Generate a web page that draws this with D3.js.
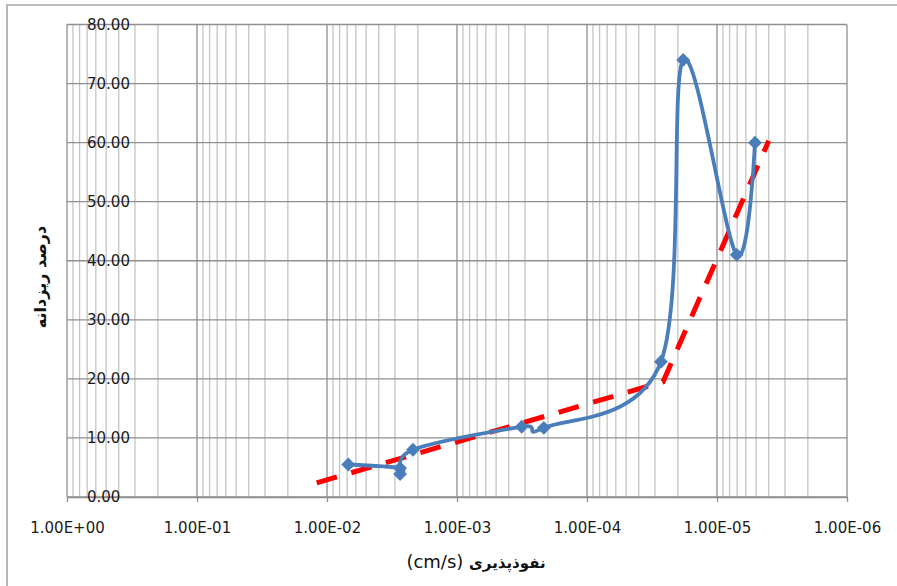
<!DOCTYPE html>
<html>
<head>
<meta charset="utf-8">
<script src="https://cdn.jsdelivr.net/npm/d3@7"></script>
<style>
  html, body { margin: 0; padding: 0; background: #fff; }
  svg { display: block; }
  text { font-family: "DejaVu Sans", sans-serif; }
</style>
</head>
<body>
<svg id="chart" width="897" height="586"></svg>
<script>
// Permeability (cm/s) and fines percentage for each measured sample
const permeability = [6.86e-3, 2.74e-3, 2.74e-3, 2.18e-3, 3.18e-4, 2.15e-4, 2.70e-5, 1.82e-5, 7.05e-6, 5.10e-6];
const finesPercent = [5.5, 4.9, 3.9, 8.0, 11.9, 11.7, 22.9, 74.0, 41.0, 60.0];

// Two-segment trend (red dashed)
const trendPermeability = [1.2e-2, 2.6e-5, 4.0e-6];
const trendFines = [2.4, 19.5, 60.3];

// Axis ticks
const xDecades = [1e0, 1e-1, 1e-2, 1e-3, 1e-4, 1e-5, 1e-6];
const yTicks = [0, 10, 20, 30, 40, 50, 60, 70, 80];

const xTitleUnit = "(cm/s) ";
const xTitleText = "نفوذپذیری";
const yTitleText = "درصد ریزدانه";

const svg = d3.select("#chart");

const x = d3.scaleLog().domain([1e0, 1e-6]).range([67, 847]);
const y = d3.scaleLinear().domain([0, 80]).range([497, 24.5]);

// Outer frame
svg.append("path")
  .attr("d", "M7,590 L7,5 L900,5")
  .attr("fill", "none")
  .attr("stroke", "#a6a6a6")
  .attr("stroke-width", 1.6);

// Minor vertical gridlines (2..9 within each decade)
const minor = [];
for (let e = 0; e > -6; e--) {
  for (let m = 2; m <= 9; m++) minor.push(m * Math.pow(10, e - 1));
}
const grid = svg.append("g");
grid.selectAll(".minor")
  .data(minor)
  .join("line")
  .attr("x1", d => x(d)).attr("x2", d => x(d))
  .attr("y1", y(80)).attr("y2", y(0))
  .attr("stroke", "#c4c4c4")
  .attr("stroke-width", 1.3);

// Horizontal gridlines
grid.selectAll(".hgrid")
  .data(yTicks)
  .join("line")
  .attr("x1", x(1e0)).attr("x2", x(1e-6))
  .attr("y1", d => y(d)).attr("y2", d => y(d))
  .attr("stroke", "#8f8f8f")
  .attr("stroke-width", 1.3);

// Decade gridlines
grid.selectAll(".major")
  .data(xDecades)
  .join("line")
  .attr("x1", d => x(d)).attr("x2", d => x(d))
  .attr("y1", y(80)).attr("y2", y(0))
  .attr("stroke", "#8f8f8f")
  .attr("stroke-width", 1.3);

// X axis with scientific tick labels
const fmtSci = d => {
  const e = Math.round(Math.log10(d));
  return "1.00E" + (e >= 0 ? "+" : "-") + String(Math.abs(e)).padStart(2, "0");
};
const xAxis = svg.append("g")
  .attr("transform", `translate(0,${y(0)})`)
  .call(d3.axisBottom(x).tickValues(xDecades).tickFormat(fmtSci).tickSize(5).tickPadding(20).tickSizeOuter(0));
xAxis.select(".domain").attr("stroke", "#8f8f8f").attr("stroke-width", 1.3);
xAxis.selectAll(".tick line").attr("stroke", "#8f8f8f").attr("stroke-width", 1.3);
xAxis.selectAll(".tick text")
  .attr("fill", "#1a1a1a")
  .style("font-size", "15px")
  .style("font-family", "DejaVu Sans, sans-serif");

// Y axis labels sit just inside the plot area
const yAxis = svg.append("g")
  .attr("transform", `translate(${x(1e0)},0)`)
  .call(d3.axisRight(y).tickValues(yTicks).tickFormat(d3.format(".2f")).tickSize(0).tickPadding(20));
yAxis.select(".domain").remove();
yAxis.selectAll(".tick text")
  .attr("fill", "#1a1a1a")
  .style("font-size", "15px")
  .style("font-family", "DejaVu Sans, sans-serif");

// Trend line
const trend = trendPermeability.map((k, i) => [k, trendFines[i]]);
svg.append("path")
  .datum(trend)
  .attr("fill", "none")
  .attr("stroke", "#ff0000")
  .attr("stroke-width", 5)
  .attr("stroke-dasharray", "21,15")
  .attr("d", d3.line().x(d => x(d[0])).y(d => y(d[1])));

// Smoothed measurement curve
const pts = permeability.map((k, i) => [k, finesPercent[i]]);
svg.append("path")
  .datum(pts)
  .attr("fill", "none")
  .attr("stroke", "#4a7ebb")
  .attr("stroke-width", 3.8)
  .attr("stroke-linejoin", "round")
  .attr("d", d3.line().curve(d3.curveCardinal.tension(0)).x(d => x(d[0])).y(d => y(d[1])));

// Diamond markers
svg.selectAll(".marker")
  .data(pts)
  .join("path")
  .attr("d", d3.symbol(d3.symbolSquare, 96))
  .attr("transform", d => `translate(${x(d[0])},${y(d[1])}) rotate(45)`)
  .attr("fill", "#4a7ebb");

// Axis titles
const xt = svg.append("text")
  .attr("x", 476).attr("y", 568)
  .attr("text-anchor", "middle")
  .attr("fill", "#111");
xt.append("tspan").style("font-size", "18px").text(xTitleUnit);
xt.append("tspan").style("font-size", "15px").style("font-weight", "bold").text(xTitleText);

svg.append("text")
  .attr("transform", "translate(46,277) rotate(-90)")
  .attr("text-anchor", "middle")
  .attr("fill", "#111")
  .style("font-size", "16px")
  .style("font-weight", "bold")
  .text(yTitleText);
</script>
</body>
</html>
